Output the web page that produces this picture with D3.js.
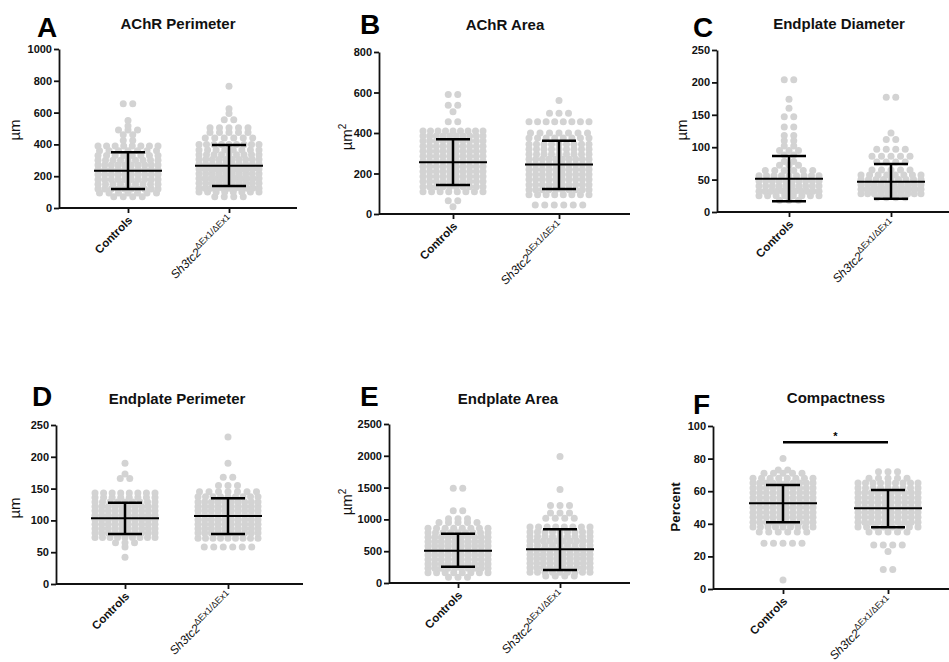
<!DOCTYPE html>
<html>
<head>
<meta charset="utf-8">
<script src="https://cdn.jsdelivr.net/npm/d3@7"></script>
<style>
  body { margin: 0; background: #fff; }
  text { font-family: Arial, 'Liberation Sans', sans-serif; }
</style>
</head>
<body>
<div id="chart"></div>
<script>
// groups on every panel
var groups = ['Controls', 'Sh3tc2'];

// rows of the scatter: [value, number of points in that row]
var achrPerimCtrl = [[70,4],[95,7],[120,10],[150,9],[180,10],[210,10],[240,10],[270,10],[300,9],[330,8],[360,7],[390,8],[425,2],[460,2],[490,3],[515,1],[550,1],[655,2]];
var achrPerimMut  = [[70,4],[100,8],[125,11],[155,10],[185,11],[215,10],[245,11],[275,10],[305,10],[335,9],[365,8],[400,9],[440,6],[475,5],[505,5],[555,2],[595,1],[625,1],[765,1]];
var achrAreaCtrl  = [[36,1],[65,2],[110,8],[135,10],[160,10],[185,10],[210,10],[235,10],[260,10],[285,10],[310,10],[335,10],[360,10],[385,10],[410,9],[455,2],[505,1],[537,2],[590,2]];
var achrAreaMut   = [[45,6],[95,8],[120,10],[145,10],[170,10],[195,10],[220,10],[245,10],[270,10],[295,9],[320,9],[345,9],[375,8],[400,7],[455,8],[497,3],[560,1]];
var epDiamCtrl    = [[18,3],[25,8],[32,11],[40,10],[48,10],[56,9],[64,6],[72,3],[78,2],[88,2],[95,3],[102,2],[110,2],[118,2],[131,2],[147,2],[160,1],[174,1],[204,2]];
var epDiamMut     = [[22,4],[28,10],[35,11],[42,10],[50,9],[57,8],[65,5],[77,4],[86,5],[97,4],[112,2],[122,1],[177,2]];
var epPerimCtrl   = [[42,1],[58,1],[65,3],[73,9],[80,10],[87,10],[94,10],[101,10],[108,10],[115,10],[122,10],[129,9],[136,8],[143,8],[166,2],[173,1],[190,1]];
var epPerimMut    = [[58,6],[72,9],[80,10],[87,10],[94,10],[101,10],[108,10],[115,10],[122,10],[129,10],[137,9],[145,7],[155,3],[168,2],[190,1],[231,1]];
var epAreaCtrl    = [[90,3],[160,8],[230,10],[300,10],[370,10],[440,10],[510,10],[580,10],[650,10],[720,10],[790,9],[860,8],[950,5],[1010,3],[1135,2],[1490,2]];
var epAreaMut     = [[110,4],[170,9],[240,10],[310,10],[380,10],[450,10],[520,10],[590,9],[660,10],[730,9],[800,9],[880,8],[1020,4],[1100,3],[1220,3],[1470,1],[1990,1]];
var compactCtrl   = [[5.5,1],[28,5],[35,6],[38,9],[41,10],[44,10],[47,10],[50,10],[53,10],[56,10],[59,10],[62,10],[65,10],[68,8],[71,5],[73,2],[80,1]];
var compactMut    = [[12,2],[23,1],[27,4],[35,5],[38,8],[41,10],[44,10],[47,10],[50,10],[53,10],[56,10],[59,10],[62,9],[65,9],[68,5],[72,3]];

// mean and SD (low, high) per group
var achrPerimMean = [235, 266],   achrPerimSD = [[120,350],[138,396]];
var achrAreaMean  = [255, 244],   achrAreaSD  = [[143,369],[123,362]];
var epDiamMean    = [51.4, 46.8], epDiamSD    = [[16.5,86.4],[20.5,74]];
var epPerimMean   = [103.3, 107], epPerimSD   = [[78.6,127.8],[78.6,134.7]];
var epAreaMean    = [508, 530],   epAreaSD    = [[256,775],[204,844]];
var compactMean   = [52.6, 49.5], compactSD   = [[40.9,63.8],[37.9,60.7]];

// significance bar on F
var compactSig = [{from: 'Controls', to: 'Sh3tc2', level: 90, label: '*'}];

var width = 949, height = 662;
var dot_r = 3.5, dot_gap = 9.5, row_width = 60;
var mean_half = 34, cap_half = 17;

var svg = d3.select('#chart').append('svg')
  .attr('width', width)
  .attr('height', height);

var panels = [
  {letter:'A', title:'AChR Perimeter', unit:'µm', unitBold:false, sq:false,
   rows:[achrPerimCtrl, achrPerimMut], mean:achrPerimMean, sd:achrPerimSD, max:1000, step:200,
   ax:59, top:49, y0:208, xEnd:297, cats:[128,229], letterX:37, letterY:37, titleX:178, titleY:29, unitX:20, unitY:130},
  {letter:'B', title:'AChR Area', unit:'µm', unitBold:false, sq:true,
   rows:[achrAreaCtrl, achrAreaMut], mean:achrAreaMean, sd:achrAreaSD, max:800, step:200,
   ax:379, top:52, y0:214, xEnd:630, cats:[453,559], letterX:360, letterY:34, titleX:505, titleY:30, unitX:352, unitY:137},
  {letter:'C', title:'Endplate Diameter', unit:'µm', unitBold:false, sq:false,
   rows:[epDiamCtrl, epDiamMut], mean:epDiamMean, sd:epDiamSD, max:250, step:50,
   ax:717, top:50, y0:212, xEnd:949, cats:[789,891], letterX:693, letterY:37, titleX:839, titleY:29, unitX:687, unitY:130},
  {letter:'D', title:'Endplate Perimeter', unit:'µm', unitBold:false, sq:false,
   rows:[epPerimCtrl, epPerimMut], mean:epPerimMean, sd:epPerimSD, max:250, step:50,
   ax:56, top:425, y0:584, xEnd:303, cats:[125,228], letterX:32, letterY:406, titleX:177, titleY:404, unitX:20, unitY:508},
  {letter:'E', title:'Endplate Area', unit:'µm', unitBold:false, sq:true,
   rows:[epAreaCtrl, epAreaMut], mean:epAreaMean, sd:epAreaSD, max:2500, step:500,
   ax:389, top:424, y0:583, xEnd:630, cats:[458,560], letterX:360, letterY:406, titleX:508, titleY:404, unitX:352, unitY:502},
  {letter:'F', title:'Compactness', unit:'Percent', unitBold:true, sq:false,
   rows:[compactCtrl, compactMut], mean:compactMean, sd:compactSD, max:100, step:20, sig:compactSig,
   ax:713, top:426, y0:589, xEnd:949, cats:[783,888], letterX:693, letterY:414, titleX:836, titleY:403, unitX:680, unitY:507}
];

panels.forEach(function(p) {
  var g = svg.append('g');

  var y = d3.scaleLinear().domain([0, p.max]).range([p.y0, p.top]);
  var x = d3.scalePoint().domain(groups).range(p.cats);

  // scatter points, each row spread around the group centre
  var pts = [];
  groups.forEach(function(grp, gi) {
    p.rows[gi].forEach(function(r) {
      var n = r[1];
      var gap = n > 1 ? Math.min(dot_gap, row_width / (n - 1)) : 0;
      for (var i = 0; i < n; i++) {
        pts.push({group: grp, value: r[0], off: (i - (n - 1) / 2) * gap});
      }
    });
  });
  g.append('g').selectAll('circle').data(pts).enter()
    .append('circle')
    .attr('cx', function(d) { return x(d.group) + d.off; })
    .attr('cy', function(d) { return y(d.value); })
    .attr('r', dot_r)
    .attr('fill', '#d3d3d3');

  // mean + SD bars
  groups.forEach(function(grp, gi) {
    var cx = x(grp);
    g.append('line')
      .attr('x1', cx - mean_half).attr('x2', cx + mean_half)
      .attr('y1', y(p.mean[gi])).attr('y2', y(p.mean[gi]))
      .attr('stroke', '#000').attr('stroke-width', 2);
    g.append('line')
      .attr('x1', cx).attr('x2', cx)
      .attr('y1', y(p.sd[gi][0])).attr('y2', y(p.sd[gi][1]))
      .attr('stroke', '#000').attr('stroke-width', 2.5);
    p.sd[gi].forEach(function(v) {
      g.append('line')
        .attr('x1', cx - cap_half).attr('x2', cx + cap_half)
        .attr('y1', y(v)).attr('y2', y(v))
        .attr('stroke', '#000').attr('stroke-width', 2.5);
    });
  });

  // y axis
  var yAxis = d3.axisLeft(y)
    .tickValues(d3.range(0, p.max + p.step / 2, p.step))
    .tickFormat(d3.format('d'))
    .tickSize(5).tickSizeOuter(0).tickPadding(2);
  var ya = g.append('g')
    .attr('transform', 'translate(' + p.ax + ',0)')
    .call(yAxis);
  ya.selectAll('path, line').attr('stroke', '#111').attr('stroke-width', 1.8);
  ya.selectAll('text').attr('fill', '#111').style('font-size', '11px').style('font-weight', 'bold');

  // x axis
  g.append('line')
    .attr('x1', p.ax).attr('x2', p.xEnd)
    .attr('y1', p.y0).attr('y2', p.y0)
    .attr('stroke', '#111').attr('stroke-width', 1.8);
  var xa = g.append('g')
    .attr('transform', 'translate(0,' + p.y0 + ')')
    .call(d3.axisBottom(x).tickSize(5).tickSizeOuter(0).tickFormat(''));
  xa.select('.domain').remove();
  xa.selectAll('line').attr('stroke', '#111').attr('stroke-width', 1.8);

  // rotated category labels
  groups.forEach(function(grp) {
    var t = g.append('text')
      .attr('transform', 'translate(' + (x(grp) + 5) + ',' + (p.y0 + 13) + ') rotate(-45)')
      .attr('text-anchor', 'end')
      .attr('fill', '#111');
    if (grp === 'Controls') {
      t.style('font-size', '11.5px').style('font-weight', 'bold').text('Controls');
    } else {
      t.style('font-size', '12px');
      t.append('tspan').style('font-style', 'italic').text('Sh3tc2');
      t.append('tspan').attr('dy', -5).style('font-size', '9px').text('ΔEx1/ΔEx1');
    }
  });

  // y label
  var ul = g.append('text')
    .attr('transform', 'translate(' + p.unitX + ',' + p.unitY + ') rotate(-90)')
    .attr('text-anchor', 'middle')
    .attr('fill', '#111');
  if (p.unitBold) {
    ul.style('font-size', '13.5px').style('font-weight', 'bold').text(p.unit);
  } else {
    ul.style('font-size', '15px').text(p.unit);
    if (p.sq) ul.append('tspan').attr('dy', -6).style('font-size', '10px').text('2');
  }

  // title and panel letter
  g.append('text')
    .attr('x', p.titleX).attr('y', p.titleY)
    .attr('text-anchor', 'middle')
    .style('font-size', '15px').style('font-weight', 'bold')
    .attr('fill', '#111')
    .text(p.title);
  g.append('text')
    .attr('x', p.letterX).attr('y', p.letterY)
    .style('font-size', '28px').style('font-weight', 'bold')
    .attr('fill', '#000')
    .text(p.letter);

  // significance
  if (p.sig) {
    p.sig.forEach(function(s) {
      g.append('line')
        .attr('x1', x(s.from)).attr('x2', x(s.to))
        .attr('y1', y(s.level)).attr('y2', y(s.level))
        .attr('stroke', '#000').attr('stroke-width', 2.5);
      g.append('text')
        .attr('x', (x(s.from) + x(s.to)) / 2).attr('y', y(s.level) - 2.5)
        .attr('text-anchor', 'middle')
        .style('font-size', '11px').style('font-weight', 'bold')
        .text(s.label);
    });
  }
});
</script>
</body>
</html>
